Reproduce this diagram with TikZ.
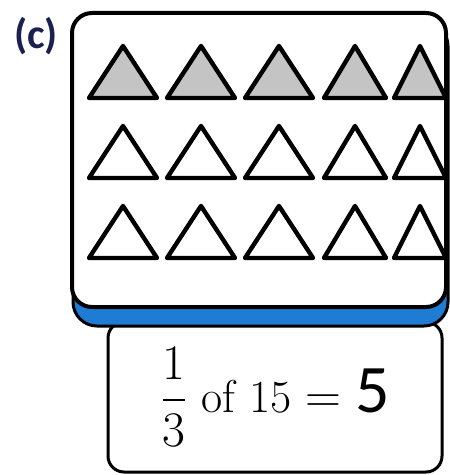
\documentclass[tikz,border=0pt]{standalone}
\usepackage{amsmath}
\usepackage{fontspec}
\newfontfamily\labelfont{Carlito}
\usetikzlibrary{positioning}
\definecolor{trayblue}{RGB}{30,124,212}
\definecolor{labelnavy}{RGB}{28,32,78}
\definecolor{shadegray}{RGB}{196,196,196}

\begin{document}
\begin{tikzpicture}[x=0.5pt,y=-0.5pt,
    tri/.style={draw=black,line width=2.2pt,line join=round},
    answerbox/.style={draw=black,line width=1.5pt,rounded corners=8pt,inner sep=0pt,
      minimum width=167pt,minimum height=75pt,font=\fontsize{23}{28}\selectfont}]
  \useasboundingbox (0,0) rectangle (449,475);
  \node[text=labelnavy,inner sep=0pt,font=\labelfont\bfseries\fontsize{21}{24}\selectfont] (label) at (36,36) {(c)};
  % box with the answer, partly under the tray
  \node[answerbox] (answer) at (275,397) {$\dfrac{1}{3}$ of 15 $=$ {\labelfont\fontsize{34}{34}\selectfont 5}};
  % blue rim and white tray
  \draw[fill=trayblue,line width=1.5pt,rounded corners=12pt] (73,22) rectangle (448,326);
  \draw[fill=white,line width=2pt,rounded corners=10pt] (72,13) rectangle (446,307);
  % triangles, top row shaded
  \foreach \ay/\fillc in {46/shadegray,126/white,206/white}
    \foreach \cx/\hw in {123/34,201/34,279/34,355/31,420/26}
      \draw[tri,fill=\fillc] (\cx,\ay) -- (\cx-\hw,\ay+52) -- (\cx+\hw,\ay+52) -- cycle;
\end{tikzpicture}
\end{document}
